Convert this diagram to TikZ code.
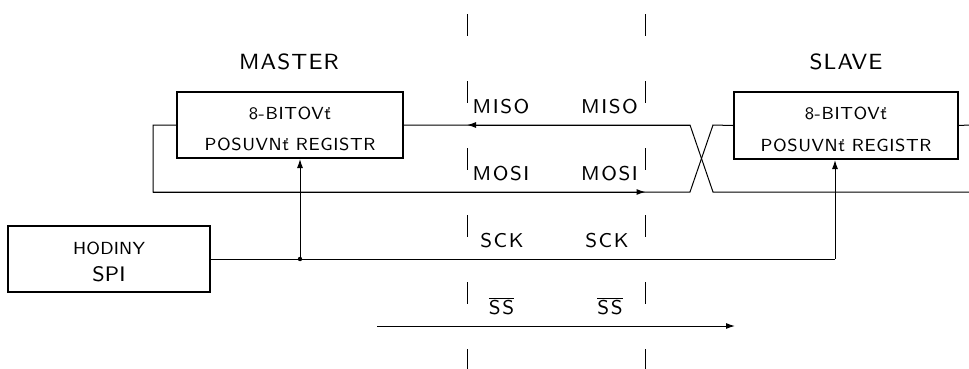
\documentclass[tikz,border=0pt]{standalone}
\usepackage{fontspec}
\usetikzlibrary{arrows.meta}
\newfontfamily\sigfont{lmsans8-regular.otf}[LetterSpace=8]
\newfontfamily\titfont{lmsans8-regular.otf}[LetterSpace=5]
\newfontfamily\regfont{lmsans8-regular.otf}[LetterSpace=3.5]
\newfontfamily\clkfont{lmsans8-regular.otf}[LetterSpace=1]
\newcommand{\fsz}[2]{\fontsize{#1}{#2}\selectfont}
\tikzset{
  regbox/.style={draw, line width=2pt, minimum width=226pt, minimum height=66pt, inner sep=0pt},
  regtext/.style={inner sep=0pt, align=center, font=\regfont\fsz{17.5}{31.5}},
  clkbox/.style={draw, line width=2pt, minimum width=202pt, minimum height=66pt, inner sep=0pt},
  clktext/.style={inner sep=0pt, align=center, font=\clkfont\fsz{21}{27}},
  title/.style={font=\titfont\fsz{22}{26}, inner sep=0pt},
  sig/.style={font=\sigfont\fsz{20}{24}, inner sep=0pt},
  wire/.style={line width=1pt},
  arr/.style={line width=1pt, -{Latex[length=9pt,width=6pt]}},
  cut/.style={line width=1pt, dash pattern=on 22pt off 45pt},
}
\begin{document}
\begin{tikzpicture}[x=1pt,y=-1pt]
\useasboundingbox (0,0) rectangle (969,368);
% boundary lines
\coordinate (c1t) at (467,14); \coordinate (c1b) at (467,372);
\coordinate (c2t) at (645.5,14); \coordinate (c2b) at (645.5,372);
\draw[cut] (c1t) -- (c1b);
\draw[cut] (c2t) -- (c2b);
% boxes
\node[regbox] (master) at (290,125) {};
\node[regtext] (mastert) at ([yshift=-4pt]master.center) {8-BITOVť\\POSUVNť REGISTR};
\node[regbox, minimum width=224pt, minimum height=67pt] (slave) at (846,125.5) {};
\node[regtext] (slavet) at ([yshift=-4pt]slave.center) {8-BITOVť\\POSUVNť REGISTR};
\node[clkbox] (clk) at (109,259) {};
\node[clktext] (clkt) at ([yshift=-3pt]clk.center) {{\fsz{17.5}{27}HODINY}\\SPI};
% titles
\node[title] (tm) at (289,61.5) {MASTER};
\node[title] (ts) at (846,61.5) {SLAVE};
% signal labels
\node[sig] (miso1) at (501,107) {MISO};
\node[sig] (miso2) at (609.5,107) {MISO};
\node[sig] (mosi1) at (501,174) {MOSI};
\node[sig] (mosi2) at (609.5,174) {MOSI};
\node[sig] (sck1) at (502,241) {SCK};
\node[sig] (sck2) at (607,241) {SCK};
\node[sig, anchor=base] (ss1) at (501.5,314) {$\overline{\hbox{SS}}$};
\node[sig, anchor=base] (ss2) at (610,314) {$\overline{\hbox{SS}}$};
% coordinates for wires
\coordinate (ml) at (153,125);
\coordinate (mb) at (153,192);
\coordinate (x1) at (690,192);
\coordinate (x2) at (713,125);
\coordinate (x3) at (713,192);
\coordinate (x4) at (690,125);
\coordinate (mosiA) at (645.5,192);
\coordinate (misoA) at (467,125);
\coordinate (rt) at (969,125);
\coordinate (rb) at (969,192);
% MOSI
\draw[wire] (master.west) -- (ml) -- (mb) -- (x1) -- (x2) -- (slave.west);
\draw[arr] (mb) -- (mosiA);
% MISO
\draw[wire] (slave.east) -- (rt);
\draw[wire] (rb) -- (x3) -- (x4) -- (master.east);
\draw[arr] (x4) -- (misoA);
% SCK
\coordinate (dot) at (300,259);
\coordinate (sr) at (835,259);
\draw[wire] (clk.east) -- (sr);
\fill (dot) circle (2.2pt);
\draw[arr] (dot) -- (dot |- master.south);
\draw[arr] (sr) -- (sr |- slave.south);
% SS
\coordinate (ssa) at (377,326);
\coordinate (ssb) at (735,326);
\draw[arr] (ssa) -- (ssb);
\end{tikzpicture}
\end{document}
